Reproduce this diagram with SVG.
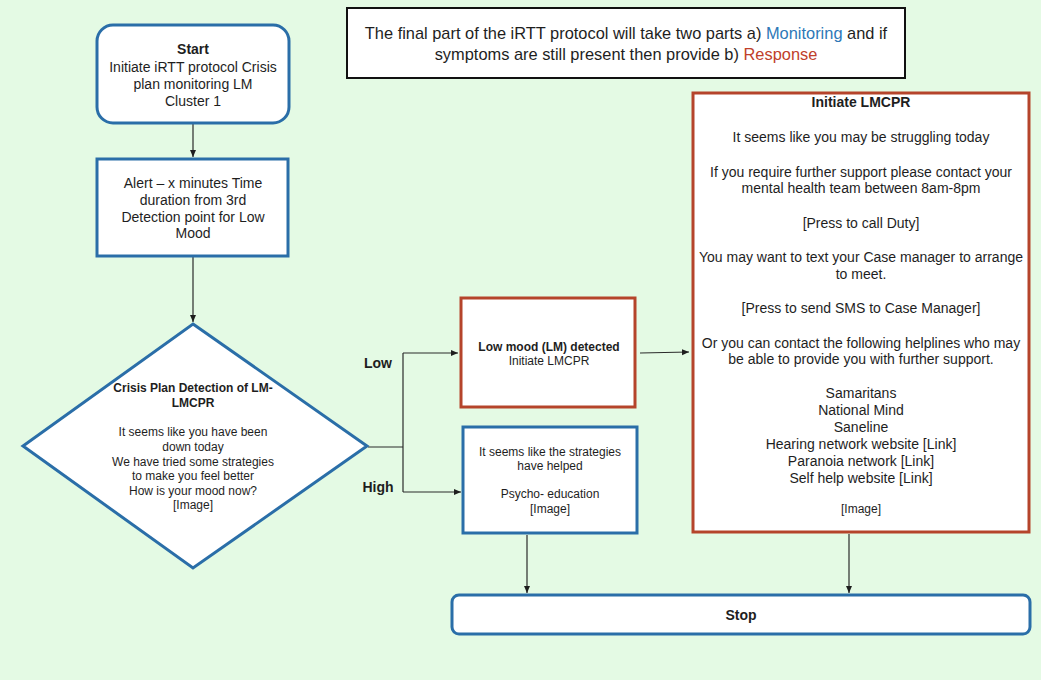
<svg xmlns="http://www.w3.org/2000/svg" width="1041" height="680" viewBox="0 0 1041 680">
  <style>
    text { font-family: "Liberation Sans", Arial, sans-serif; fill: #1e1e1e; text-anchor: middle; }
    .b { font-weight: bold; }
    .blue { fill: #ffffff; stroke: #2a6ea8; stroke-width: 3; }
    .red { fill: #ffffff; stroke: #b5442b; stroke-width: 3; }
    .note { fill: #ffffff; stroke: #111111; stroke-width: 2; }
    .edge { fill: none; stroke: #2b2b2b; stroke-width: 1.2; }
    .t16 { font-size: 16.4px; }
    .t14 { font-size: 14px; }
    .t12 { font-size: 12px; }
  </style>
  <defs>
    <marker id="arrow" markerWidth="8" markerHeight="8" refX="7" refY="4" orient="auto" markerUnits="userSpaceOnUse">
      <path d="M0,1 L7,4 L0,7 z" fill="#1e1e1e"/>
    </marker>
  </defs>

  <rect x="0" y="0" width="1041" height="680" fill="#e4fae4"/>

  <!-- connectors -->
  <g id="connectors">
    <line class="edge" x1="193" y1="124" x2="193" y2="157" marker-end="url(#arrow)"/>
    <line class="edge" x1="193" y1="257" x2="193" y2="322" marker-end="url(#arrow)"/>
    <polyline class="edge" points="368,447 403,447"/>
    <polyline class="edge" points="403,353 403,492"/>
    <line class="edge" x1="403" y1="353" x2="458" y2="353" marker-end="url(#arrow)"/>
    <line class="edge" x1="403" y1="492" x2="461" y2="492" marker-end="url(#arrow)"/>
    <line class="edge" x1="640" y1="353" x2="689" y2="352" marker-end="url(#arrow)"/>
    <line class="edge" x1="527" y1="535" x2="527" y2="593" marker-end="url(#arrow)"/>
    <line class="edge" x1="849" y1="534" x2="849" y2="593" marker-end="url(#arrow)"/>
    <text class="t14 b" x="378" y="368">Low</text>
    <text class="t14 b" x="378" y="492">High</text>
  </g>

  <!-- header note -->
  <g id="note">
    <rect class="note" x="347" y="8" width="558" height="70"/>
    <text class="t16" x="626" y="39">The final part of the iRTT protocol will take two parts a) <tspan fill="#2e78b7">Monitoring</tspan> and if</text>
    <text class="t16" x="626" y="60">symptoms are still present then provide b) <tspan fill="#c0402a">Response</tspan></text>
  </g>

  <g id="start">
    <rect class="blue" x="97" y="25" width="192" height="98" rx="16"/>
    <text class="t14 b" x="193" y="54">Start</text>
    <text class="t14" x="193" y="72">Initiate iRTT protocol Crisis</text>
    <text class="t14" x="193" y="89">plan monitoring LM</text>
    <text class="t14" x="193" y="106">Cluster 1</text>
  </g>

  <g id="alert">
    <rect class="blue" x="97" y="159" width="191" height="97"/>
    <text class="t14" x="193" y="188">Alert – x minutes Time</text>
    <text class="t14" x="193" y="205">duration from 3rd</text>
    <text class="t14" x="193" y="222">Detection point for Low</text>
    <text class="t14" x="193" y="238">Mood</text>
  </g>

  <g id="decision">
    <polygon class="blue" points="193,324 367,446 193,568 23,446"/>
    <text class="t12 b" x="193" y="392">Crisis Plan Detection of LM-</text>
    <text class="t12 b" x="193" y="407">LMCPR</text>
    <text class="t12" x="193" y="436">It seems like you have been</text>
    <text class="t12" x="193" y="451">down today</text>
    <text class="t12" x="193" y="466">We have tried some strategies</text>
    <text class="t12" x="193" y="480">to make you feel better</text>
    <text class="t12" x="193" y="495">How is your mood now?</text>
    <text class="t12" x="193" y="509">[Image]</text>
  </g>

  <g id="low-mood">
    <rect class="red" x="461" y="298" width="174" height="109"/>
    <text class="t12 b" x="549" y="351">Low mood (LM) detected</text>
    <text class="t12" x="549" y="365">Initiate LMCPR</text>
  </g>

  <g id="helped">
    <rect class="blue" x="463" y="427" width="174" height="106"/>
    <text class="t12" x="550" y="456">It seems like the strategies</text>
    <text class="t12" x="550" y="470">have helped</text>
    <text class="t12" x="550" y="498">Psycho- education</text>
    <text class="t12" x="550" y="513">[Image]</text>
  </g>

  <g id="response">
    <rect class="red" x="693" y="93" width="336" height="439"/>
    <text class="t14 b" x="861" y="107">Initiate LMCPR</text>
    <text class="t14" x="861" y="142">It seems like you may be struggling today</text>
    <text class="t14" x="861" y="177">If you require further support please contact your</text>
    <text class="t14" x="861" y="193">mental health team between 8am-8pm</text>
    <text class="t14" x="861" y="228">[Press to call Duty]</text>
    <text class="t14" x="861" y="262">You may want to text your Case manager to arrange</text>
    <text class="t14" x="861" y="279">to meet.</text>
    <text class="t14" x="861" y="313">[Press to send SMS to Case Manager]</text>
    <text class="t14" x="861" y="348">Or you can contact the following helplines who may</text>
    <text class="t14" x="861" y="364">be able to provide you with further support.</text>
    <text class="t14" x="861" y="398">Samaritans</text>
    <text class="t14" x="861" y="415">National Mind</text>
    <text class="t14" x="861" y="432">Saneline</text>
    <text class="t14" x="861" y="449">Hearing network website [Link]</text>
    <text class="t14" x="861" y="466">Paranoia network [Link]</text>
    <text class="t14" x="861" y="483">Self help website [Link]</text>
    <text class="t12" x="861" y="513">[Image]</text>
  </g>

  <g id="stop">
    <rect class="blue" x="452" y="595" width="578" height="39" rx="7"/>
    <text class="t14 b" x="741" y="620">Stop</text>
  </g>
</svg>
